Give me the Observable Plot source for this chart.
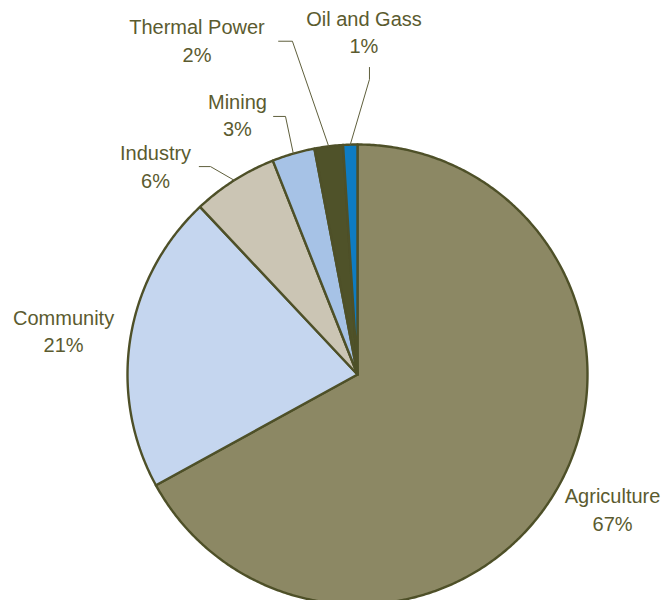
<!DOCTYPE html>
<html>
<head>
<meta charset="utf-8">
<script src="https://cdn.jsdelivr.net/npm/d3@7"></script>
<script src="https://cdn.jsdelivr.net/npm/@observablehq/plot@0.6"></script>
<style>
  html, body { margin: 0; padding: 0; background: #fff; overflow: hidden; }
  #chart { width: 662px; height: 600px; }
</style>
</head>
<body>
<div id="chart"></div>
<script>
// ---- data ----
const categories = ["Agriculture", "Community", "Industry", "Mining", "Thermal Power", "Oil and Gass"];
const shares = [67, 21, 6, 3, 2, 1];
const colors = ["#8c8864", "#c5d6ef", "#cbc5b4", "#a6c2e6", "#4f5229", "#0e7cc2"];

// ---- layout (data units, 1 = pie radius) ----
const labelPos = {
  "Agriculture": [1.109, -0.581],
  "Community": [-1.278, 0.195],
  "Industry": [-0.878, 0.910],
  "Mining": [-0.522, 1.134],
  "Thermal Power": [-0.698, 1.458],
  "Oil and Gass": [0.028, 1.495]
};
const leaderPts = {
  "Industry": [[-0.688, 0.904], [-0.639, 0.904]],
  "Mining": [[-0.365, 1.122], [-0.313, 1.122]],
  "Thermal Power": [[-0.343, 1.449], [-0.283, 1.449]],
  "Oil and Gass": [[0.052, 1.335], [0.052, 1.283]]
};

const W = 662, H = 600, R = 230, CX = 357, CY = 374;

const pie = d3.pie().sort(null).value(d => d.value)(
  categories.map((name, i) => ({name, value: shares[i]}))
);

// slice outlines
const slicePts = [];
for (const p of pie) {
  const name = p.data.name;
  slicePts.push({name, x: 0, y: 0});
  const n = Math.max(2, Math.ceil((p.endAngle - p.startAngle) / (Math.PI / 360)));
  for (let k = 0; k <= n; k++) {
    const a = p.startAngle + (p.endAngle - p.startAngle) * k / n;
    slicePts.push({name, x: Math.sin(a), y: Math.cos(a)});
  }
  slicePts.push({name, x: 0, y: 0});
}

// leader lines
const leaders = [];
for (const p of pie) {
  const name = p.data.name;
  if (!leaderPts[name]) continue;
  const mid = (p.startAngle + p.endAngle) / 2;
  for (const [x, y] of leaderPts[name]) leaders.push({name, x, y});
  leaders.push({name, x: Math.sin(mid), y: Math.cos(mid)});
}

const labels = categories.map((name, i) => ({
  name, text: name + "\n" + shares[i] + "%", x: labelPos[name][0], y: labelPos[name][1]
}));

const chart = Plot.plot({
  width: W,
  height: H,
  margin: 0,
  style: {background: "#fff", fontFamily: "'Liberation Sans', Arial, sans-serif"},
  x: {domain: [-CX / R, (W - CX) / R], range: [0, W], axis: null},
  y: {domain: [-(H - CY) / R, CY / R], range: [H, 0], axis: null},
  color: {domain: categories, range: colors},
  marks: [
    Plot.line(slicePts, {
      x: "x", y: "y", z: "name", fill: "name",
      stroke: "#4e5028", strokeWidth: 2.4, strokeLinejoin: "round", clip: true
    }),
    Plot.line(leaders, {
      x: "x", y: "y", z: "name", stroke: "#5f5f3c", strokeWidth: 1
    }),
    Plot.text(labels, {
      x: "x", y: "y", text: "text", fill: "#5b5b2f", fontSize: 20,
      textAnchor: "middle", lineAnchor: "middle", lineHeight: 1.38
    })
  ]
});
document.getElementById("chart").appendChild(chart);
</script>
</body>
</html>
